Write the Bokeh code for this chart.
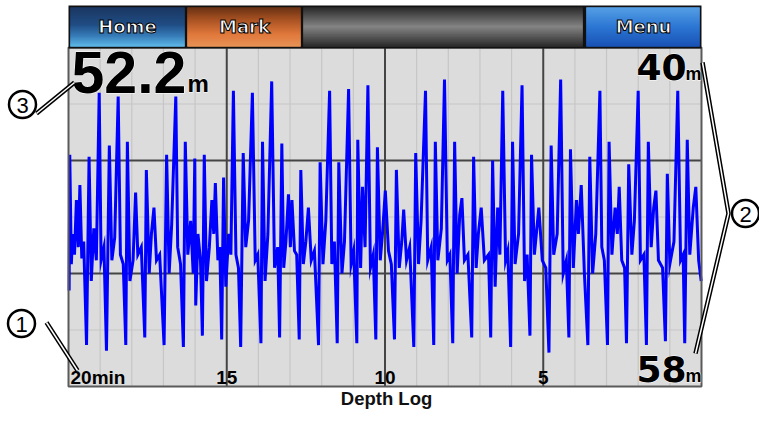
import numpy as np
from bokeh.plotting import figure
from bokeh.models import Range1d
from bokeh.core.properties import value
from bokeh.embed import file_html
from bokeh.resources import INLINE

# ---------------- data ----------------
minutes_ago = [
    19.98, 19.96, 19.91, 19.87, 19.81, 19.75, 19.69, 19.64, 19.58, 19.52,
    19.43, 19.35, 19.28, 19.20, 19.12, 19.03, 18.97, 18.88, 18.80, 18.71,
    18.63, 18.54, 18.43, 18.36, 18.27, 18.19, 18.14, 18.06, 17.96, 17.88,
    17.81, 17.70, 17.59, 17.54, 17.45, 17.38, 17.30, 17.22, 17.12, 16.98,
    16.90, 16.82, 16.74, 16.61, 16.55, 16.46, 16.37, 16.31, 16.23, 16.14,
    16.06, 16.01, 15.98, 15.91, 15.83, 15.77, 15.71, 15.64, 15.55, 15.47,
    15.41, 15.36, 15.28, 15.22, 15.16, 15.10, 15.03, 14.94, 14.87, 14.79,
    14.71, 14.63, 14.56, 14.48, 14.40, 14.31, 14.19, 14.10, 14.02, 13.92,
    13.87, 13.79, 13.70, 13.58, 13.49, 13.39, 13.33, 13.26, 13.20, 13.13,
    13.05, 12.99, 12.94, 12.86, 12.79, 12.71, 12.66, 12.58, 12.50, 12.42,
    12.33, 12.23, 12.10, 12.05, 11.96, 11.87, 11.75, 11.68, 11.60, 11.51,
    11.46, 11.36, 11.28, 11.15, 11.07, 10.99, 10.89, 10.86, 10.77, 10.71,
    10.63, 10.54, 10.46, 10.37, 10.29, 10.24, 10.15, 10.08, 9.99, 9.89,
    9.80, 9.70, 9.64, 9.55, 9.47, 9.41, 9.32, 9.22, 9.09, 9.03,
    8.94, 8.86, 8.72, 8.65, 8.54, 8.46, 8.41, 8.33, 8.22, 8.12,
    8.03, 7.95, 7.86, 7.80, 7.72, 7.64, 7.57, 7.49, 7.38, 7.26,
    7.20, 7.12, 7.05, 6.96, 6.86, 6.73, 6.66, 6.60, 6.52, 6.44,
    6.37, 6.28, 6.19, 6.12, 6.03, 5.97, 5.89, 5.78, 5.67, 5.59,
    5.51, 5.42, 5.37, 5.28, 5.14, 5.03, 4.92, 4.82, 4.75, 4.67,
    4.56, 4.45, 4.37, 4.27, 4.19, 4.14, 4.05, 3.95, 3.89, 3.80,
    3.70, 3.59, 3.53, 3.44, 3.34, 3.21, 3.15, 3.07, 2.97, 2.92,
    2.83, 2.73, 2.66, 2.60, 2.52, 2.43, 2.37, 2.30, 2.20, 2.12,
    2.00, 1.93, 1.82, 1.74, 1.68, 1.59, 1.51, 1.44, 1.36, 1.23,
    1.14, 1.08, 1.00, 0.87, 0.75, 0.66, 0.58, 0.53, 0.45, 0.37,
    0.26, 0.18, 0.09, 0.01,
]
depth_m = [
    52.9, 45.7, 51.5, 49.9, 51.0, 48.1, 50.6, 47.3, 51.2, 50.3,
    55.8, 45.8, 52.4, 49.6, 51.3, 42.4, 51.3, 50.6, 56.1, 45.2,
    51.3, 50.1, 42.6, 51.0, 51.5, 55.8, 45.0, 52.4, 51.3, 47.7,
    51.0, 50.6, 55.4, 46.5, 52.0, 49.9, 48.5, 51.3, 51.0, 55.8,
    45.7, 52.0, 49.4, 42.6, 50.6, 51.5, 55.9, 45.0, 51.0, 49.2,
    52.0, 45.9, 53.7, 49.9, 51.3, 55.3, 45.7, 52.4, 50.6, 48.1,
    49.9, 47.2, 51.3, 50.6, 55.5, 46.9, 52.7, 49.9, 51.0, 42.3,
    51.0, 51.7, 55.9, 45.6, 50.6, 49.2, 42.4, 51.3, 51.0, 55.7,
    45.0, 52.4, 49.9, 41.8, 51.7, 50.6, 55.4, 45.1, 51.7, 50.3,
    47.8, 50.6, 48.1, 50.8, 51.0, 55.5, 46.5, 51.5, 50.3, 48.5,
    51.3, 50.8, 55.8, 46.1, 51.5, 49.2, 42.3, 51.5, 50.3, 55.7,
    46.1, 52.0, 50.3, 42.2, 51.5, 50.8, 55.7, 44.9, 51.7, 47.4,
    50.6, 42.0, 51.7, 51.0, 55.5, 45.3, 51.3, 49.9, 47.6, 50.8,
    51.5, 55.5, 46.5, 51.7, 50.3, 48.6, 51.3, 50.6, 55.9, 45.6,
    51.5, 49.2, 42.3, 51.3, 50.6, 55.8, 45.0, 51.3, 49.6, 41.7,
    51.3, 51.0, 55.7, 45.0, 52.0, 48.9, 48.0, 51.3, 51.0, 55.4,
    45.8, 51.7, 49.9, 48.5, 51.3, 51.0, 55.4, 46.0, 52.7, 48.5,
    51.0, 42.3, 51.3, 50.8, 55.9, 45.0, 51.5, 49.9, 42.0, 52.4,
    51.0, 55.3, 45.7, 51.0, 48.5, 51.3, 51.7, 56.2, 45.2, 51.0,
    49.9, 41.7, 52.0, 51.3, 55.4, 45.4, 51.7, 48.1, 49.9, 47.3,
    52.0, 55.8, 45.8, 52.0, 49.9, 42.3, 50.6, 51.3, 55.8, 45.0,
    51.0, 48.5, 49.9, 47.4, 51.3, 51.7, 55.7, 46.2, 51.0, 49.2,
    42.3, 51.3, 51.0, 55.8, 45.0, 50.6, 48.5, 47.6, 51.3, 51.7,
    55.6, 46.7, 51.5, 50.3, 42.3, 51.3, 51.0, 55.7, 44.9, 51.0,
    48.5, 47.4, 51.3, 52.4,
]
time_span_min = [20, 0]
major_minutes = [15, 10, 5]
minor_minutes = [19, 18, 17, 16, 14, 13, 12, 11, 9, 8, 7, 6, 4, 3, 2, 1]
tick_minutes = [20, 15, 10, 5]
tick_labels = ["20min", "15", "10", "5"]
depth_range = [40, 58]
major_depths = [46, 52]
minor_depths = [43, 49, 55]
current_depth = "52.2"
range_labels = ["40", "58"]
unit = "m"
button_labels = ["Home", "Mark", "Menu"]
callouts = ["1", "2", "3"]
caption = "Depth Log"

# ---------------- layout (picture pixels) ----------------
W, H = 759, 409
CL, CR, CT, CB = 68, 701, 47, 386

p = figure(width=W, height=H, output_backend="svg", toolbar_location=None,
           x_range=Range1d(0, W), y_range=Range1d(H, 0),
           x_axis_location=None, y_axis_location=None, min_border=0)
p.grid.visible = False
p.outline_line_color = None
p.background_fill_color = "white"
p.border_fill_color = "white"

ppm = (CR - CL) / (time_span_min[0] - time_span_min[1])
p.extra_x_ranges = {"t": Range1d(time_span_min[0] + CL / ppm,
                                 time_span_min[1] - (W - CR) / ppm)}
ppd = (CB - CT) / (depth_range[1] - depth_range[0])
p.extra_y_ranges = {"d": Range1d(depth_range[1] + (H - CB) / ppd,
                                 depth_range[0] - CT / ppd)}
TD = dict(x_range_name="t", y_range_name="d")

# chart background
p.quad(left=[time_span_min[0]], right=[time_span_min[1]],
       top=[depth_range[0]], bottom=[depth_range[1]],
       fill_color="#dcdcdc", line_color=None, **TD)

# grid
p.segment(x0=minor_minutes, x1=minor_minutes,
          y0=[depth_range[0]] * len(minor_minutes), y1=[depth_range[1]] * len(minor_minutes),
          line_color="#c6c6c6", line_width=1.2, **TD)
p.segment(x0=[time_span_min[0]] * len(minor_depths), x1=[time_span_min[1]] * len(minor_depths),
          y0=minor_depths, y1=minor_depths, line_color="#c6c6c6", line_width=1.2, **TD)
p.segment(x0=major_minutes, x1=major_minutes,
          y0=[depth_range[0]] * len(major_minutes), y1=[depth_range[1]] * len(major_minutes),
          line_color="#444444", line_width=2, **TD)
p.segment(x0=[time_span_min[0]] * len(major_depths), x1=[time_span_min[1]] * len(major_depths),
          y0=major_depths, y1=major_depths, line_color="#444444", line_width=2, **TD)

# depth trace
p.line(minutes_ago, depth_m, line_color="#0000ff", line_width=3, line_join="miter", **TD)

# frame border
p.quad(left=[time_span_min[0]], right=[time_span_min[1]],
       top=[depth_range[0]], bottom=[depth_range[1]],
       fill_color=None, line_color="#5a5a5a", line_width=2, **TD)

# ---------------- button bar ----------------
def h2r(h):
    h = h.lstrip("#")
    return np.array([int(h[i:i + 2], 16) for i in (0, 2, 4)], dtype=float)

def gradient(x0, x1, y0, y1, stops):
    L, R, T, B, C = [], [], [], [], []
    n = int(round(y1 - y0))
    pos = [s[0] for s in stops]
    cols = [h2r(s[1]) for s in stops]
    for i in range(n):
        f = (i + 0.5) / n
        c = np.array([np.interp(f, pos, [cc[k] for cc in cols]) for k in range(3)])
        L.append(x0); R.append(x1); T.append(y0 + i); B.append(y0 + i + 1)
        C.append("#%02x%02x%02x" % tuple(int(round(v)) for v in c))
    p.quad(left=L, right=R, top=T, bottom=B, fill_color=C, line_color=C, line_width=0.5)

p.quad(left=[CL], right=[CR], top=[5], bottom=[CT + 1], fill_color="#111111", line_color=None)
gradient(70, 184, 7, 46, [(0, "#1b3a66"), (0.45, "#21518c"), (0.75, "#3b86c6"), (1, "#62c2f4")])
gradient(187, 300, 7, 46, [(0, "#6e3414"), (0.35, "#b85a26"), (0.7, "#ee8040"), (1, "#f49a5a")])
gradient(303, 582, 7, 46, [(0, "#2a2a2a"), (0.5, "#8c8c8c"), (1, "#2e2e2e")])
gradient(586, 699, 7, 46, [(0, "#5aa8f4"), (0.5, "#2f7ee0"), (1, "#1a58c0")])

p.text(x=[127, 244, 643], y=[26, 26, 26], text=button_labels,
       text_font=value("DejaVu Sans"), text_font_style="bold", text_font_size="18px",
       text_color="white", text_outline_color="black",
       text_align="center", text_baseline="middle")

# ---------------- readouts ----------------
def halo_text(x, y, text, font, size, align):
    for outline in ("white", None):
        p.text(x=x, y=y, text=text, text_font=value(font), text_font_style="bold",
               text_font_size=size, text_color="black", text_outline_color=outline,
               text_align=align, text_baseline="middle")

halo_text([71], [72], [current_depth], "Liberation Sans", "59px", "left")
halo_text([187], [83], [unit], "Liberation Sans", "24px", "left")
halo_text([686, 686], [66, 368], range_labels, "DejaVu Sans", "36px", "right")
halo_text([701, 701], [73, 375], [unit, unit], "Liberation Sans", "18px", "right")

# time tick labels
p.text(x=tick_minutes[:1], y=[377], text=tick_labels[:1], text_font=value("Liberation Sans"),
       text_font_style="bold", text_font_size="19px", text_color="black",
       text_align="left", text_baseline="middle", x_range_name="t", x_offset=2)
p.text(x=tick_minutes[1:], y=[377] * 3, text=tick_labels[1:], text_font=value("Liberation Sans"),
       text_font_style="bold", text_font_size="19px", text_color="black",
       text_align="center", text_baseline="middle", x_range_name="t")

# ---------------- callouts ----------------
def leader(xs, ys):
    p.line(xs, ys, line_color="black", line_width=4.5)
    p.line(xs, ys, line_color="white", line_width=1.5)

leader([46, 77], [322, 370])
leader([702, 728, 695], [62, 213, 353])
leader([36, 74], [113, 82])

cx = [21, 745, 22]
cy = [323, 213, 104]
p.scatter(x=cx, y=cy, marker="circle", size=27, fill_color="white",
          line_color="black", line_width=2.5)
p.text(x=cx, y=cy, text=callouts, text_font=value("Liberation Sans"),
       text_font_size="22px", text_color="black", text_align="center",
       text_baseline="middle", y_offset=1)

# caption
p.text(x=[386], y=[398], text=[caption], text_font=value("Liberation Sans"),
       text_font_style="bold", text_font_size="18.5px", text_color="#111111",
       text_align="center", text_baseline="middle")

open("out.html", "w").write(file_html(p, INLINE))
